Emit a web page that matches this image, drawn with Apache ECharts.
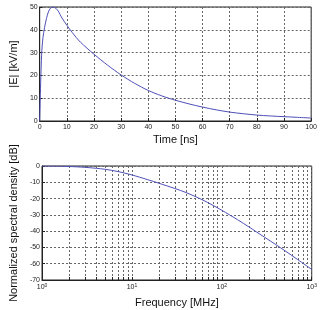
<!DOCTYPE html>
<html>
<head>
<meta charset="utf-8">
<script src="https://cdn.jsdelivr.net/npm/echarts@6/dist/echarts.min.js"></script>
<style>
    html, body { margin: 0; padding: 0; background: #fff; }
    #chart { width: 320px; height: 310px; }
</style>
</head>
<body>
<div id="chart"></div>
<script>
    // time domain pulse
    var timeNs = [0, 0.25, 0.5, 0.8, 1.2, 1.8, 2.5, 3.2, 4, 5, 6, 7, 8, 10, 12, 15, 20, 25, 30, 35, 40, 45, 50, 55, 60, 65, 70, 75, 80, 85, 90, 95, 100]
    var eField = [0, 12, 22, 31, 36.5, 41, 45, 47.8, 49.5, 50, 49.4, 47.9, 45.6, 42, 38.8, 34.6, 29.3, 24.5, 20.2, 16.5, 13.4, 11, 9.1, 7.5, 6.1, 4.9, 3.9, 3.2, 2.6, 2.2, 1.9, 1.6, 1.3]

    // spectrum
    var freqMHz = [1, 1.5, 2, 3, 4, 5, 7, 10, 15, 20, 30, 40, 60, 80, 100, 150, 200, 300, 400, 500, 700, 1000]
    var specDb = [0, -0.1, -0.3, -0.8, -1.4, -2, -3.4, -5.5, -8.4, -10.6, -13.8, -16.3, -20.6, -24.2, -27.2, -33, -37.4, -43.8, -48.3, -51.9, -57.5, -63.5]
    var decadeLabels = [1, 10, 100, 1000]
    var freqGrid = [1, 2, 3, 4, 5, 6, 7, 8, 9, 10, 20, 30, 40, 50, 60, 70, 80, 90, 100, 200, 300, 400, 500, 600, 700, 800, 900, 1000]

    var dotted = { show: true, lineStyle: { color: '#666', type: [2, 2], width: 1 } }
    var lineCol = '#4f4fb8'
    var titleFont = { fontFamily: 'Liberation Sans', fontSize: 11, color: '#111' }

    var chart = echarts.init(document.getElementById('chart'))
    chart.setOption({
        animation: false,
        backgroundColor: '#fff',
        grid: [
            { left: 27, right: 7, top: 7, height: 114, show: true, borderColor: '#222', borderWidth: 1, backgroundColor: 'transparent' },
            { left: 27, right: 7, top: 166, height: 114, show: true, borderColor: '#222', borderWidth: 1, backgroundColor: 'transparent' }
        ],
        xAxis: [
            {
                gridIndex: 0, type: 'value', min: 0, max: 100, interval: 10,
                name: 'Time [ns]', nameLocation: 'middle', nameGap: 13, nameTextStyle: titleFont,
                axisLine: { show: true, onZero: false, lineStyle: { color: '#222' } },
                axisTick: { show: true, inside: true, length: 3, lineStyle: { color: '#222' } },
                axisLabel: { fontSize: 7, color: '#222', margin: 3, fontFamily: 'Liberation Sans' },
                splitLine: dotted
            },
            {
                gridIndex: 1, type: 'log', logBase: 10, min: 1, max: 1000,
                name: 'Frequency [MHz]', nameLocation: 'middle', nameGap: 17, nameTextStyle: titleFont,
                axisLine: { show: true, onZero: false, lineStyle: { color: '#222' } },
                axisTick: { show: true, inside: true, length: 3, customValues: freqGrid, lineStyle: { color: '#222' } },
                axisLabel: {
                    customValues: decadeLabels, margin: 3, color: '#222', fontFamily: 'Liberation Sans',
                    formatter: function (v) {
                        return '{b|10}{s|' + Math.round(Math.log10(v)) + '}'
                    },
                    rich: {
                        b: { fontSize: 7, color: '#222', fontFamily: 'Liberation Sans' },
                        s: { fontSize: 5, color: '#222', fontFamily: 'Liberation Sans', verticalAlign: 'top', padding: [0, 0, 4, 0] }
                    }
                },
                splitLine: dotted
            }
        ],
        yAxis: [
            {
                gridIndex: 0, type: 'value', min: 0, max: 50, interval: 10,
                name: '|E| [kV/m]', nameLocation: 'middle', nameGap: 11, nameTextStyle: titleFont,
                axisLine: { show: true, lineStyle: { color: '#222' } },
                axisTick: { show: true, inside: true, length: 3, lineStyle: { color: '#222' } },
                axisLabel: { fontSize: 7, color: '#222', margin: 2, fontFamily: 'Liberation Sans' },
                splitLine: dotted
            },
            {
                gridIndex: 1, type: 'value', min: -70, max: 0, interval: 10,
                name: 'Normalized spectral density [dB]', nameLocation: 'middle', nameGap: 16, nameTextStyle: titleFont,
                axisLine: { show: true, lineStyle: { color: '#222' } },
                axisTick: { show: true, inside: true, length: 3, lineStyle: { color: '#222' } },
                axisLabel: { fontSize: 7, color: '#222', margin: 2, fontFamily: 'Liberation Sans' },
                splitLine: dotted
            }
        ],
        series: [
            {
                type: 'line', xAxisIndex: 0, yAxisIndex: 0, smooth: 0.3, symbol: 'none',
                lineStyle: { color: lineCol, width: 1 },
                data: timeNs.map(function (t, i) { return [t, eField[i]] })
            },
            {
                type: 'line', xAxisIndex: 1, yAxisIndex: 1, smooth: 0.3, symbol: 'none',
                lineStyle: { color: lineCol, width: 1 },
                data: freqMHz.map(function (f, i) { return [f, specDb[i]] })
            }
        ]
    })
</script>
</body>
</html>
